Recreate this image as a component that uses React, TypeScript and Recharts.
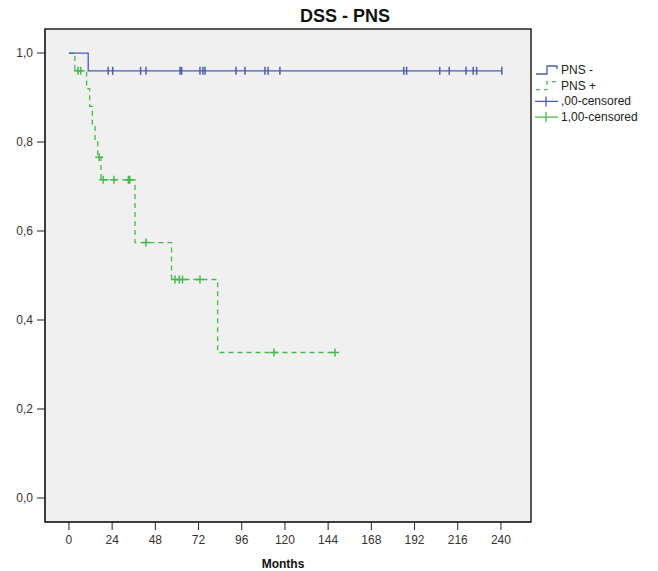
import React from "react";
import {
  ComposedChart,
  Line,
  Scatter,
  XAxis,
  YAxis,
  ReferenceArea,
} from "recharts";

// Kaplan-Meier curves (months, survival)
const pnsNeg = [
  { t: 0, s: 1 },
  { t: 10.7, s: 0.96 },
  { t: 240.5, s: 0.96 },
];

const pnsPos = [
  { t: 0, s: 1 },
  { t: 3.3, s: 0.96 },
  { t: 9.8, s: 0.92 },
  { t: 11.5, s: 0.88 },
  { t: 13, s: 0.84 },
  { t: 14.5, s: 0.8 },
  { t: 16, s: 0.766 },
  { t: 17.8, s: 0.715 },
  { t: 36.7, s: 0.574 },
  { t: 57, s: 0.491 },
  { t: 82.6, s: 0.327 },
  { t: 147.8, s: 0.327 },
];

const negCensorTimes = [
  21.8, 24.3, 39.8, 42.8, 61.7, 62.6, 72.8, 74.4, 75.6, 92.8, 97.8, 108.9,
  110.6, 117.2, 186, 187.6, 206, 211.3, 220.6, 224.6, 226.5, 240.5,
];
const negCensored = negCensorTimes.map((t) => ({ t, s: 0.96 }));

const posCensored = [
  { t: 5, s: 0.96 },
  { t: 6.5, s: 0.96 },
  { t: 16.8, s: 0.766 },
  { t: 19, s: 0.715 },
  { t: 25, s: 0.715 },
  { t: 33, s: 0.715 },
  { t: 33.8, s: 0.715 },
  { t: 42.8, s: 0.574 },
  { t: 58.9, s: 0.491 },
  { t: 61.3, s: 0.491 },
  { t: 63.1, s: 0.491 },
  { t: 72.8, s: 0.491 },
  { t: 113.9, s: 0.327 },
  { t: 147.8, s: 0.327 },
];

const xTicks = [0, 24, 48, 72, 96, 120, 144, 168, 192, 216, 240];
const yTicks = [0, 0.2, 0.4, 0.6, 0.8, 1.0];

const X_DOMAIN: [number, number] = [-13.3, 256.7];
const Y_DOMAIN: [number, number] = [-0.054, 1.054];

const BLUE = "#4a5cb0";
const GREEN = "#45b94d";
const FONT = "'Liberation Sans', Arial, sans-serif";

function BlueTick(props: any) {
  const { cx, cy } = props;
  return <path d={`M${cx},${cy - 4}V${cy + 4}`} stroke={BLUE} strokeWidth={1.5} />;
}

function GreenPlus(props: any) {
  const { cx, cy } = props;
  return (
    <path
      d={`M${cx - 4},${cy}H${cx + 4}M${cx},${cy - 4}V${cy + 4}`}
      stroke={GREEN}
      strokeWidth={1.5}
    />
  );
}

const legendRows = [
  { label: "PNS -", kind: "stepSolid" },
  { label: "PNS +", kind: "stepDashed" },
  { label: ",00-censored", kind: "blueCensor" },
  { label: "1,00-censored", kind: "greenCensor" },
];

function LegendIcon({ kind, y }: { kind: string; y: number }) {
  if (kind === "stepSolid")
    return (
      <path d={`M1,${y + 4}H12V${y - 4}H22V${y - 1}`} stroke={BLUE} strokeWidth={1.3} fill="none" />
    );
  if (kind === "stepDashed")
    return (
      <path
        d={`M1,${y + 4}H12V${y - 4}H22V${y - 1}`}
        stroke={GREEN}
        strokeWidth={1.3}
        fill="none"
        strokeDasharray="4 4"
      />
    );
  const c = kind === "blueCensor" ? BLUE : GREEN;
  return <path d={`M0,${y}H23M11,${y - 5}V${y + 5}`} stroke={c} strokeWidth={1.3} />;
}

export default function App() {
  const tickStyle = { fontSize: 12, fill: "#333", fontFamily: FONT };
  return (
    <div style={{ position: "absolute", left: 0, top: 0, width: 658, height: 571, background: "#fff" }}>
      <div
        style={{
          position: "absolute",
          left: 245,
          top: 6,
          width: 200,
          textAlign: "center",
          fontFamily: FONT,
          fontWeight: "bold",
          fontSize: 18,
          lineHeight: "20px",
          color: "#111",
        }}
      >
        DSS - PNS
      </div>
      <ComposedChart
        width={658}
        height={571}
        margin={{ top: 29, right: 127, bottom: 0, left: 0 }}
      >
        <ReferenceArea
          x1={X_DOMAIN[0]}
          x2={X_DOMAIN[1]}
          y1={Y_DOMAIN[0]}
          y2={Y_DOMAIN[1]}
          fill="#f0f0f0"
          fillOpacity={1}
          stroke="#222"
          strokeWidth={1.5}
          ifOverflow="extendDomain"
        />
        <XAxis
          type="number"
          dataKey="t"
          domain={X_DOMAIN}
          ticks={xTicks}
          allowDataOverflow
          height={49}
          tickSize={8}
          tickMargin={5}
          tick={tickStyle}
          stroke="#222"
          label={{
            value: "Months",
            position: "insideBottom",
            offset: 3,
            dx: -5,
            style: { fontSize: 12, fontWeight: "bold", fill: "#111", fontFamily: FONT },
          }}
        />
        <YAxis
          type="number"
          dataKey="s"
          domain={Y_DOMAIN}
          ticks={yTicks}
          allowDataOverflow
          width={45}
          tickSize={8}
          tickMargin={4}
          tick={tickStyle}
          stroke="#222"
          tickFormatter={(v: number) => v.toFixed(1).replace(".", ",")}
        />
        <Line
          data={pnsPos}
          dataKey="s"
          type="stepAfter"
          stroke={GREEN}
          strokeWidth={1.3}
          strokeDasharray="5 4"
          dot={false}
          isAnimationActive={false}
        />
        <Line
          data={pnsNeg}
          dataKey="s"
          type="stepAfter"
          stroke={BLUE}
          strokeWidth={1.3}
          dot={false}
          isAnimationActive={false}
        />
        <Scatter data={negCensored} dataKey="s" shape={BlueTick} isAnimationActive={false} />
        <Scatter data={posCensored} dataKey="s" shape={GreenPlus} isAnimationActive={false} />
      </ComposedChart>
      <svg
        style={{ position: "absolute", left: 535, top: 60 }}
        width={123}
        height={70}
      >
        {legendRows.map((r, i) => {
          const y = 10 + i * 15.7;
          return (
            <g key={r.label}>
              <LegendIcon kind={r.kind} y={y} />
              <text
                x={26}
                y={y + 4}
                fontSize={12}
                fontFamily={FONT}
                fill="#222"
              >
                {r.label}
              </text>
            </g>
          );
        })}
      </svg>
    </div>
  );
}
